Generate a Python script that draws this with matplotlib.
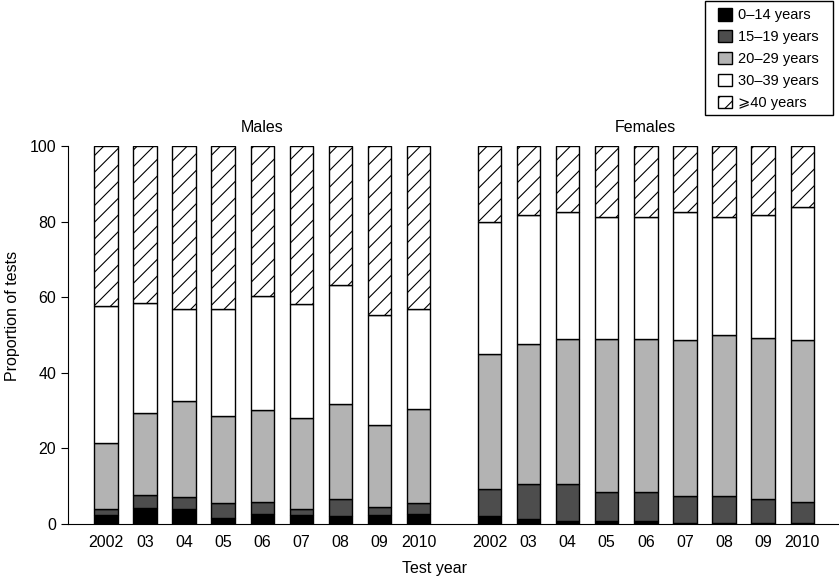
import matplotlib
matplotlib.use("Agg")
import matplotlib.pyplot as plt
from matplotlib.patches import Rectangle
import numpy as np

plt.rcParams['font.family'] = ['Liberation Sans', 'DejaVu Sans']
plt.rcParams['hatch.linewidth'] = 0.8

# tick labels (same for both groups)
years = ["2002", "03", "04", "05", "06", "07", "08", "09", "2010"]
groups = ["Males", "Females"]
age_labels = ["0\u201314 years", "15\u201319 years", "20\u201329 years", "30\u201339 years", "\u2a7e40 years"]

# percentage of tests per age group
males_0_14 = [2.4, 4.1, 4.0, 1.6, 2.6, 2.4, 2.1, 2.4, 2.6]
males_15_19 = [1.6, 3.7, 3.1, 3.9, 3.1, 1.6, 4.4, 2.0, 2.9]
males_20_29 = [17.3, 21.5, 25.4, 23.0, 24.5, 24.1, 25.2, 21.8, 25.0]
males_30_39 = [36.4, 29.2, 24.3, 28.5, 30.0, 30.1, 31.5, 29.1, 26.4]
males_40plus = [42.3, 41.5, 43.2, 43.0, 39.8, 41.8, 36.8, 44.7, 43.1]

females_0_14 = [2.0, 1.4, 0.7, 0.7, 0.7, 0.35, 0.35, 0.2, 0.2]
females_15_19 = [7.3, 9.2, 9.9, 7.8, 7.8, 6.95, 6.95, 6.4, 5.6]
females_20_29 = [35.6, 36.9, 38.4, 40.5, 40.5, 41.3, 42.6, 42.5, 42.8]
females_30_39 = [35.0, 34.2, 33.5, 32.2, 32.2, 33.9, 31.3, 32.6, 35.2]
females_40plus = [20.1, 18.3, 17.5, 18.8, 18.8, 17.5, 18.8, 18.3, 16.2]

colors = ["#000000", "#4d4d4d", "#b3b3b3", "#ffffff", "#ffffff"]
hatches = [None, None, None, None, "//"]

fig = plt.figure(figsize=(8.39, 5.76), dpi=100)
ax = fig.add_axes([0.081, 0.0903, 0.919, 0.6562])

x_m = np.arange(len(years))
x_f = x_m + 9.81
width = 0.6

handles = []
for xs, series in [(x_m, [males_0_14, males_15_19, males_20_29, males_30_39, males_40plus]),
                   (x_f, [females_0_14, females_15_19, females_20_29, females_30_39, females_40plus])]:
    bottom = np.zeros(len(years))
    handles = []
    for vals, c, h in zip(series, colors, hatches):
        b = ax.bar(xs, vals, width, bottom=bottom, color=c, edgecolor="black",
                   linewidth=1.0, hatch=h)
        handles.append(b)
        bottom += np.array(vals)

ax.text(x_m.mean(), 103.0, groups[0], ha="center", va="bottom", fontsize=11.5)
ax.text(x_f.mean(), 103.0, groups[1], ha="center", va="bottom", fontsize=11.5)

ax.set_xlim(-0.97, 18.75)
ax.set_ylim(0, 100)
ax.set_xticks(np.concatenate([x_m, x_f]))
ax.set_xticklabels(years + years, fontsize=11.5)
ax.tick_params(axis="x", length=0, pad=8)
ax.set_yticks([0, 20, 40, 60, 80, 100])
ax.tick_params(axis="y", labelsize=11.5, length=5, direction="out")
ax.spines["top"].set_visible(False)
ax.spines["right"].set_visible(False)

ax.set_xlabel("Test year", fontsize=11.5)
ax.xaxis.set_label_coords(0.476, -0.097)
ax.set_ylabel("Proportion of tests", fontsize=11.5)
ax.yaxis.set_label_coords(-0.062, 0.55)

# legend without its own frame; the box is drawn separately
leg = fig.legend(handles, age_labels, loc="upper left",
                 bbox_to_anchor=(718 / 839, 1 - 8 / 576), fontsize=10.5,
                 handlelength=0.95, handleheight=0.95, handletextpad=0.45,
                 labelspacing=0.52, frameon=False, borderpad=0, borderaxespad=0)
fig.patches.append(Rectangle((705 / 839, 1 - 115 / 576), 128 / 839, 114 / 576,
                             transform=fig.transFigure, fill=False,
                             edgecolor="black", linewidth=1.0))

fig.savefig("out.png", dpi=100)
